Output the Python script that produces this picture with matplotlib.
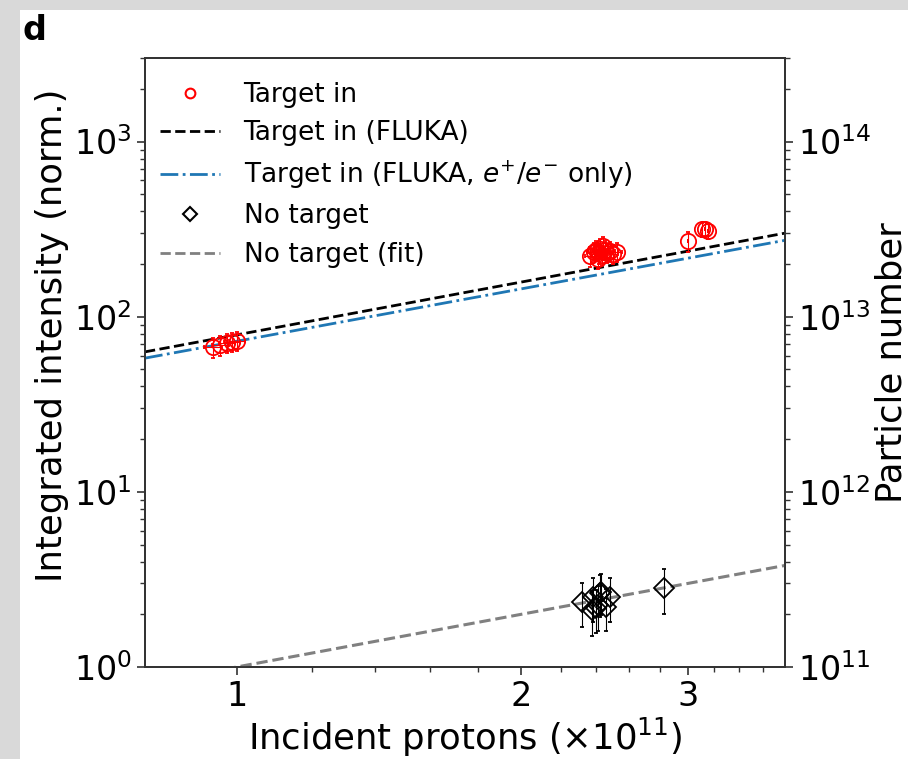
import numpy as np
import matplotlib.pyplot as plt
from matplotlib.lines import Line2D
from matplotlib.patches import Rectangle

# measured points, target in
tin_x = [0.944, 0.961, 0.977, 0.989, 1.001,
         2.364, 2.385, 2.400, 2.415, 2.423, 2.435, 2.450, 2.465, 2.482, 2.500, 2.525, 2.410, 2.440,
         3.00, 3.105, 3.13, 3.15]
tin_y = [67, 69, 71, 71.5, 73,
         221, 235, 239, 230, 245, 226, 240, 232, 236, 228, 235, 214, 252,
         269, 315, 318, 307]
tin_yerr = [9, 9, 9, 9, 9,
            28, 30, 30, 29, 31, 29, 30, 29, 30, 29, 30, 27, 32,
            34, 30, 30, 30]
tin_xerr = [0.02, 0.02, 0.02, 0.02, 0.02,
            0.03, 0.03, 0.03, 0.03, 0.03, 0.03, 0.03, 0.03, 0.03, 0.03, 0.03, 0.03, 0.03,
            0.0, 0.0, 0.0, 0.0]

# measured points, no target
nt_x = [2.32, 2.375, 2.38, 2.40, 2.41, 2.42, 2.43, 2.46, 2.48, 2.83]
nt_y = [2.35, 2.11, 2.51, 2.17, 2.26, 2.64, 2.68, 2.20, 2.51, 2.82]
nt_yerr = [0.65, 0.6, 0.7, 0.6, 0.65, 0.7, 0.7, 0.6, 0.7, 0.8]

# simulation and fit lines (end points)
line_x = [0.8, 3.8]
fluka_y = [63, 300]
fluka_ee_y = [58, 273]
fit_y = [0.8, 3.8]

fig = plt.figure(figsize=(9.08, 7.59), dpi=100)
fig.patch.set_facecolor('#d9d9d9')
fig.patches.append(Rectangle((20 / 908, 0), 1, 749 / 759, transform=fig.transFigure,
                             facecolor='white', edgecolor='none', zorder=-1))

ax = fig.add_axes([145 / 908, 92 / 759, 640 / 908, 609 / 759])
ax.set_xscale('log')
ax.set_yscale('log')

ax.plot(line_x, fluka_y, ls='--', color='black', lw=2, zorder=3)
ax.plot(line_x, fluka_ee_y, ls='-.', color='tab:blue', lw=2, zorder=3)
ax.plot(line_x, fit_y, ls='--', color='gray', lw=2.2, zorder=3)

ax.errorbar(tin_x, tin_y, yerr=tin_yerr, xerr=tin_xerr, fmt='o', ms=11, mfc='none',
            mec='red', mew=1.3, ecolor='red', elinewidth=0.8, capsize=1.5, zorder=4)
ax.errorbar(nt_x, nt_y, yerr=nt_yerr, fmt='D', ms=10.5, mfc='none', mec='black', mew=1.3,
            ecolor='black', elinewidth=0.8, capsize=1.5, zorder=4)

ax.set_xlim(0.8, 3.8)
ax.set_ylim(1, 3000)
ax.set_xticks([1, 2, 3])
ax.set_xticklabels(['1', '2', '3'])
ax.set_xticks([1.2, 1.4, 1.6, 1.8, 2.2, 2.4, 2.6, 2.8, 3.2, 3.4, 3.6], minor=True)
ax.xaxis.set_minor_formatter(plt.NullFormatter())

ax.tick_params(axis='both', which='major', labelsize=24, length=6, width=1.2, color='#333333')
ax.tick_params(axis='both', which='minor', length=3.5, width=1.0, color='#333333')
for s in ax.spines.values():
    s.set_color('#333333')
    s.set_linewidth(1.3)

ax.set_xlabel(r'Incident protons ($\times10^{11}$)', fontsize=25.5, labelpad=2)
ax.set_ylabel('Integrated intensity (norm.)', fontsize=25.5)
ax.yaxis.set_label_coords(-0.118, 0.545)

ax2 = ax.twinx()
ax2.set_yscale('log')
ax2.set_ylim(1e11, 3e14)
ax2.tick_params(axis='y', which='major', labelsize=24, length=6, width=1.2, color='#333333')
ax2.tick_params(axis='y', which='minor', length=3.5, width=1.0, color='#333333')
for s in ax2.spines.values():
    s.set_color('#333333')
    s.set_linewidth(1.3)
ax2.set_ylabel('Particle number', fontsize=25.5, labelpad=2)

handles = [
    Line2D([], [], ls='none', marker='o', ms=7, mfc='none', mec='red', mew=1.5),
    Line2D([], [], ls='--', color='black', lw=2),
    Line2D([], [], ls='-.', color='tab:blue', lw=2),
    Line2D([], [], ls='none', marker='D', ms=7.5, mfc='none', mec='black', mew=1.5),
    Line2D([], [], ls='--', color='gray', lw=2),
]
labels = ['Target in', 'Target in (FLUKA)', r'Target in (FLUKA, $e^{+}/e^{-}$ only)',
          'No target', 'No target (fit)']
ax.legend(handles, labels, loc='upper left', frameon=False, fontsize=19,
          handlelength=2.25, handletextpad=0.9, labelspacing=0.47,
          bbox_to_anchor=(-0.013, 1.0))

fig.text(22 / 908, 1 - 40 / 759, 'd', fontsize=24, fontweight='bold')

fig.savefig('out.png', dpi=100, facecolor=fig.get_facecolor())
